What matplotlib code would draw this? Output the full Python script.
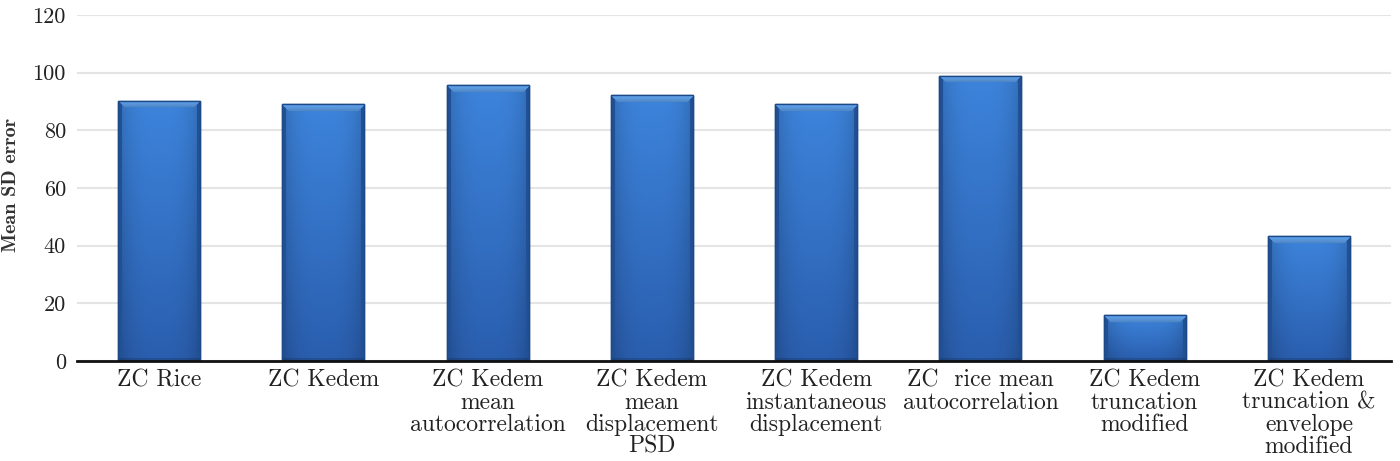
import matplotlib
matplotlib.use("Agg")
import matplotlib.pyplot as plt
import numpy as np

plt.rcParams['font.family'] = ['cmr10', 'DejaVu Serif']
plt.rcParams['axes.formatter.use_mathtext'] = True

categories = [
    "ZC Rice",
    "ZC Kedem",
    "ZC Kedem\nmean\nautocorrelation",
    "ZC Kedem\nmean\ndisplacement\nPSD",
    "ZC Kedem\ninstantaneous\ndisplacement",
    "ZC  rice mean\nautocorrelation",
    "ZC Kedem\ntruncation\nmodified",
    "ZC Kedem\ntruncation &\nenvelope\nmodified",
]
values = [90.2, 89.0, 95.6, 92.1, 89.0, 98.9, 15.8, 43.3]
yticks = [0, 20, 40, 60, 80, 100, 120]
ylabel = "Mean SD error"

fig = plt.figure(figsize=(14, 4.61), dpi=100)
ax = fig.add_axes([0.055, 0.2169, 0.9386, 0.7506])

x = np.arange(len(categories))
bars = ax.bar(x, values, width=0.5, color='#3676cf', edgecolor='#1d4a86', linewidth=1.0, zorder=3)

ax.set_xlim(-0.5, len(categories) - 0.5)
ax.set_ylim(0, 120)

# gradient / bevel shading clipped to each bar
body_top = np.array([0x3d, 0x84, 0xdc]) / 255
body_bot = np.array([0x2a, 0x5e, 0xae]) / 255
bevel = np.array([0x62, 0xa6, 0xf2]) / 255
side = np.array([0x22, 0x50, 0x95]) / 255
px_per_unit = 346 / 120.0
for b in bars:
    h = b.get_height()
    x0 = b.get_x(); w = b.get_width()
    hpx = max(int(h * px_per_unit), 2)
    wpx = 82
    img = np.zeros((hpx, wpx, 3))
    for r in range(hpx):
        t = r / max(hpx - 1, 1)
        img[r, :, :] = body_top * (1 - t) + body_bot * t
    u = np.linspace(0, 1, wpx)
    shade = 1 - 0.18 * (np.abs(u - 0.5) * 2) ** 3
    img *= shade[None, :, None]
    sb = 4
    img[:, :sb, :] = side
    img[:, -sb:, :] = side
    tb = 7
    for r in range(min(tb, hpx)):
        img[r, r:wpx - r, :] = bevel * (1 - 0.03 * r)
    img[-3:, :, :] *= 0.85
    im = ax.imshow(np.clip(img, 0, 1), extent=[x0, x0 + w, 0, h], aspect='auto',
                   origin='upper', zorder=4, interpolation='bilinear')
    im.set_clip_path(b)
    ax.add_patch(plt.Rectangle((x0, 0), w, h, fill=False, edgecolor='#1d4a86', linewidth=1.0, zorder=5))

ax.set_aspect('auto')
ax.set_xlim(-0.5, len(categories) - 0.5)
ax.set_ylim(0, 120)

ax.set_yticks(yticks)
ax.set_yticklabels([str(v) for v in yticks], fontsize=16, color='#222222')
ax.set_xticks(x)
ax.set_xticklabels(categories, fontsize=17, color='#222222', linespacing=1.0)
ax.tick_params(axis='both', length=0)
ax.tick_params(axis='y', pad=8)
ax.tick_params(axis='x', pad=6)

for s in ['top', 'right', 'left']:
    ax.spines[s].set_visible(False)
ax.spines['bottom'].set_linewidth(2.0)
ax.spines['bottom'].set_color('#111111')
ax.spines['bottom'].set_zorder(6)

ax.yaxis.grid(True, color='#e4e4e4', linewidth=1.5, zorder=0)
ax.set_axisbelow(True)

fig.text(0.0015, 0.598, ylabel, rotation=90, fontsize=14.5, family=['cmb10', 'DejaVu Serif'],
         ha='left', va='center', color='#333333')

fig.savefig("out.png", dpi=100)
